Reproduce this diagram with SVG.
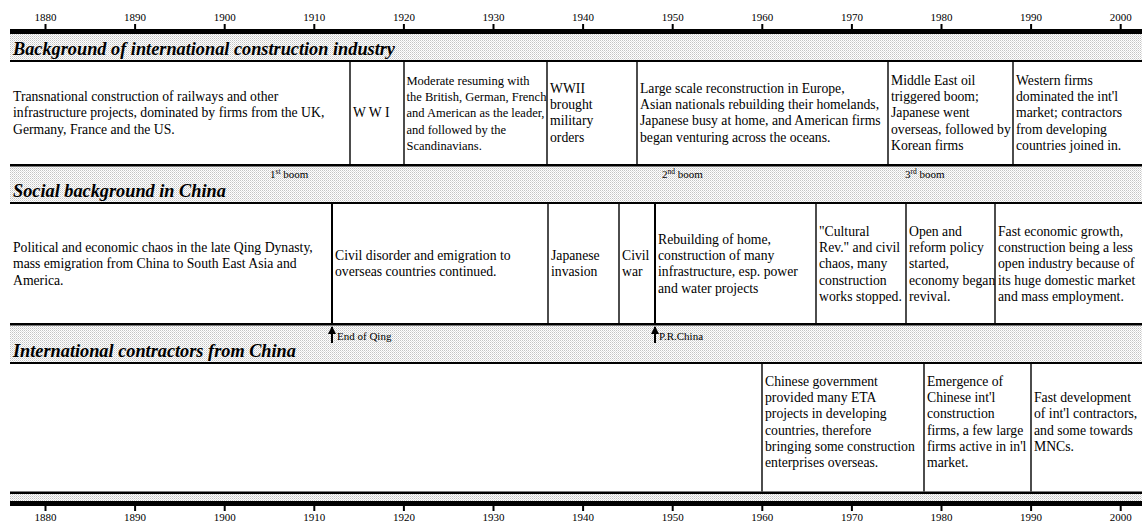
<svg xmlns="http://www.w3.org/2000/svg" width="1142" height="524" viewBox="0 0 1142 524">
  <defs>
    <pattern id="dots" width="2" height="2" patternUnits="userSpaceOnUse">
      <rect width="2" height="2" fill="#ffffff"/>
      <rect width="1" height="1" fill="#c4c4c4"/>
      <rect x="1" y="1" width="1" height="1" fill="#dedede"/>
    </pattern>
    <marker id="head" markerWidth="8" markerHeight="8" refX="7" refY="4" orient="auto" markerUnits="userSpaceOnUse">
      <path d="M0,0 L8,4 L0,8 Z" fill="#000"/>
    </marker>
  </defs>
  <style>
    text { font-family: "Liberation Serif", "Times New Roman", serif; fill: #000; }
    .yr { font-size: 11px; text-anchor: middle; }
    .cell { font-size: 13.7px; }
    .cell-s { font-size: 12.5px; }
    .ttl { font-size: 18.3px; font-weight: bold; font-style: italic; }
    .sm { font-size: 11px; }
    .sup { font-size: 7.5px; }
    .div { stroke: #000; stroke-width: 1.4; }
    .mark { stroke: #000; stroke-width: 2; }
    .band { fill: url(#dots); }
  </style>
  <rect width="1142" height="524" fill="#ffffff"/>

  <!-- dotted bands -->
  <rect class="band" x="10" y="34" width="1132" height="26"/>
  <rect class="band" x="10" y="166.5" width="1132" height="35.5"/>
  <rect class="band" x="10" y="325.5" width="1132" height="36.5"/>
  <rect class="band" x="10" y="494" width="1132" height="7"/>

  <!-- time axis, top -->
  <g id="axis-top">
    <rect x="10" y="29" width="1132" height="5" fill="#000"/>
    <g fill="#000">
      <rect x="44.5" y="24" width="2" height="5"/><rect x="134.1" y="24" width="2" height="5"/>
      <rect x="223.7" y="24" width="2" height="5"/><rect x="313.3" y="24" width="2" height="5"/>
      <rect x="402.9" y="24" width="2" height="5"/><rect x="492.5" y="24" width="2" height="5"/>
      <rect x="582.1" y="24" width="2" height="5"/><rect x="671.7" y="24" width="2" height="5"/>
      <rect x="761.3" y="24" width="2" height="5"/><rect x="850.9" y="24" width="2" height="5"/>
      <rect x="940.5" y="24" width="2" height="5"/><rect x="1030.1" y="24" width="2" height="5"/>
      <rect x="1119.7" y="24" width="2" height="5"/>
    </g>
    <text class="yr" x="45.5" y="20.5">1880</text><text class="yr" x="135.1" y="20.5">1890</text>
    <text class="yr" x="224.7" y="20.5">1900</text><text class="yr" x="314.3" y="20.5">1910</text>
    <text class="yr" x="403.9" y="20.5">1920</text><text class="yr" x="493.5" y="20.5">1930</text>
    <text class="yr" x="583.1" y="20.5">1940</text><text class="yr" x="672.7" y="20.5">1950</text>
    <text class="yr" x="762.3" y="20.5">1960</text><text class="yr" x="851.9" y="20.5">1970</text>
    <text class="yr" x="941.5" y="20.5">1980</text><text class="yr" x="1031.1" y="20.5">1990</text>
    <text class="yr" x="1120.7" y="20.5">2000</text>
  </g>

  <!-- time axis, bottom -->
  <g id="axis-bottom">
    <rect x="10" y="501" width="1132" height="5" fill="#000"/>
    <g fill="#000">
      <rect x="44.5" y="506" width="2" height="5"/><rect x="134.1" y="506" width="2" height="5"/>
      <rect x="223.7" y="506" width="2" height="5"/><rect x="313.3" y="506" width="2" height="5"/>
      <rect x="402.9" y="506" width="2" height="5"/><rect x="492.5" y="506" width="2" height="5"/>
      <rect x="582.1" y="506" width="2" height="5"/><rect x="671.7" y="506" width="2" height="5"/>
      <rect x="761.3" y="506" width="2" height="5"/><rect x="850.9" y="506" width="2" height="5"/>
      <rect x="940.5" y="506" width="2" height="5"/><rect x="1030.1" y="506" width="2" height="5"/>
      <rect x="1119.7" y="506" width="2" height="5"/>
    </g>
    <text class="yr" x="45.5" y="521">1880</text><text class="yr" x="135.1" y="521">1890</text>
    <text class="yr" x="224.7" y="521">1900</text><text class="yr" x="314.3" y="521">1910</text>
    <text class="yr" x="403.9" y="521">1920</text><text class="yr" x="493.5" y="521">1930</text>
    <text class="yr" x="583.1" y="521">1940</text><text class="yr" x="672.7" y="521">1950</text>
    <text class="yr" x="762.3" y="521">1960</text><text class="yr" x="851.9" y="521">1970</text>
    <text class="yr" x="941.5" y="521">1980</text><text class="yr" x="1031.1" y="521">1990</text>
    <text class="yr" x="1120.7" y="521">2000</text>
  </g>

  <!-- row rules -->
  <g id="rules" fill="#000">
    <rect x="10" y="60" width="1132" height="2"/>
    <rect x="10" y="164" width="1132" height="2.5"/>
    <rect x="10" y="202" width="1132" height="2"/>
    <rect x="10" y="323" width="1132" height="2.5"/>
    <rect x="10" y="362" width="1132" height="2"/>
    <rect x="10" y="491.5" width="1132" height="2.5"/>
  </g>

  <!-- section headings and band notes -->
  <g id="headings">
    <text class="ttl" x="13" y="54.5">Background of international construction industry</text>
    <text class="ttl" x="13" y="197">Social background in China</text>
    <text class="ttl" x="13" y="357">International contractors from China</text>
    <text class="sm" x="270" y="178">1<tspan class="sup" dy="-4">st</tspan><tspan dy="4"> boom</tspan></text>
    <text class="sm" x="662" y="178">2<tspan class="sup" dy="-4">nd</tspan><tspan dy="4"> boom</tspan></text>
    <text class="sm" x="905" y="178">3<tspan class="sup" dy="-4">rd</tspan><tspan dy="4"> boom</tspan></text>
  </g>

  <!-- international construction industry -->
  <g id="intl-early">
    <text class="cell" x="13" y="101.1"><tspan x="13">Transnational construction of railways and other</tspan><tspan x="13" dy="16.2">infrastructure projects, dominated by firms from the UK,</tspan><tspan x="13" dy="16.2">Germany, France and the US.</tspan></text>
  </g>
  <g id="intl-wwi">
    <line class="div" x1="350" y1="62" x2="350" y2="164"/>
    <text class="cell" x="353" y="117.3">W W I</text>
  </g>
  <g id="intl-interwar">
    <line class="div" x1="404" y1="62" x2="404" y2="164"/>
    <text class="cell-s" x="406.5" y="84.9"><tspan x="406.5">Moderate resuming with</tspan><tspan x="406.5" dy="16.2">the British, German, French</tspan><tspan x="406.5" dy="16.2">and American as the leader,</tspan><tspan x="406.5" dy="16.2">and followed by the</tspan><tspan x="406.5" dy="16.2">Scandinavians.</tspan></text>
  </g>
  <g id="intl-wwii">
    <line class="div" x1="547" y1="62" x2="547" y2="164"/>
    <text class="cell" x="550" y="93"><tspan x="550">WWII</tspan><tspan x="550" dy="16.2">brought</tspan><tspan x="550" dy="16.2">military</tspan><tspan x="550" dy="16.2">orders</tspan></text>
  </g>
  <g id="intl-postwar">
    <line class="div" x1="637" y1="62" x2="637" y2="164"/>
    <text class="cell" x="640" y="93"><tspan x="640">Large scale reconstruction in Europe,</tspan><tspan x="640" dy="16.2">Asian nationals rebuilding their homelands,</tspan><tspan x="640" dy="16.2">Japanese busy at home, and American firms</tspan><tspan x="640" dy="16.2">began venturing across the oceans.</tspan></text>
  </g>
  <g id="intl-oil">
    <line class="div" x1="888" y1="62" x2="888" y2="164"/>
    <text class="cell" x="891" y="84.9"><tspan x="891">Middle East oil</tspan><tspan x="891" dy="16.2">triggered boom;</tspan><tspan x="891" dy="16.2">Japanese went</tspan><tspan x="891" dy="16.2">overseas, followed by</tspan><tspan x="891" dy="16.2">Korean firms</tspan></text>
  </g>
  <g id="intl-late">
    <line class="div" x1="1013" y1="62" x2="1013" y2="164"/>
    <text class="cell" x="1016" y="84.9"><tspan x="1016">Western firms</tspan><tspan x="1016" dy="16.2">dominated the int'l</tspan><tspan x="1016" dy="16.2">market; contractors</tspan><tspan x="1016" dy="16.2">from developing</tspan><tspan x="1016" dy="16.2">countries joined in.</tspan></text>
  </g>

  <!-- social background in China -->
  <g id="china-qing">
    <text class="cell" x="13" y="252.1"><tspan x="13">Political and economic chaos in the late Qing Dynasty,</tspan><tspan x="13" dy="16.2">mass emigration from China to South East Asia and</tspan><tspan x="13" dy="16.2">America.</tspan></text>
  </g>
  <g id="china-republic">
    <line class="mark" x1="332" y1="204" x2="332" y2="323"/>
    <text class="cell" x="335" y="260.2"><tspan x="335">Civil disorder and emigration to</tspan><tspan x="335" dy="16.2">overseas countries continued.</tspan></text>
  </g>
  <g id="china-invasion">
    <line class="div" x1="548" y1="204" x2="548" y2="323"/>
    <text class="cell" x="551" y="260.2"><tspan x="551">Japanese</tspan><tspan x="551" dy="16.2">invasion</tspan></text>
  </g>
  <g id="china-civilwar">
    <line class="div" x1="619" y1="204" x2="619" y2="323"/>
    <text class="cell" x="622" y="260.2"><tspan x="622">Civil</tspan><tspan x="622" dy="16.2">war</tspan></text>
  </g>
  <g id="china-rebuild">
    <line class="mark" x1="655" y1="204" x2="655" y2="323"/>
    <text class="cell" x="658" y="244"><tspan x="658">Rebuilding of home,</tspan><tspan x="658" dy="16.2">construction of many</tspan><tspan x="658" dy="16.2">infrastructure, esp. power</tspan><tspan x="658" dy="16.2">and water projects</tspan></text>
  </g>
  <g id="china-cultural">
    <line class="div" x1="816" y1="204" x2="816" y2="323"/>
    <text class="cell" x="819" y="235.9"><tspan x="819">"Cultural</tspan><tspan x="819" dy="16.2">Rev." and civil</tspan><tspan x="819" dy="16.2">chaos, many</tspan><tspan x="819" dy="16.2">construction</tspan><tspan x="819" dy="16.2">works stopped.</tspan></text>
  </g>
  <g id="china-reform">
    <line class="div" x1="906" y1="204" x2="906" y2="323"/>
    <text class="cell" x="909" y="235.9"><tspan x="909">Open and</tspan><tspan x="909" dy="16.2">reform policy</tspan><tspan x="909" dy="16.2">started,</tspan><tspan x="909" dy="16.2">economy began</tspan><tspan x="909" dy="16.2">revival.</tspan></text>
  </g>
  <g id="china-growth">
    <line class="div" x1="995" y1="204" x2="995" y2="323"/>
    <text class="cell" x="998" y="235.9"><tspan x="998">Fast economic growth,</tspan><tspan x="998" dy="16.2">construction being a less</tspan><tspan x="998" dy="16.2">open industry because of</tspan><tspan x="998" dy="16.2">its huge domestic market</tspan><tspan x="998" dy="16.2">and mass employment.</tspan></text>
  </g>

  <!-- international contractors from China -->
  <g id="contractors-aid">
    <line class="div" x1="762" y1="364" x2="762" y2="491.5"/>
    <text class="cell" x="765" y="386"><tspan x="765">Chinese government</tspan><tspan x="765" dy="16.2">provided many ETA</tspan><tspan x="765" dy="16.2">projects in developing</tspan><tspan x="765" dy="16.2">countries, therefore</tspan><tspan x="765" dy="16.2">bringing some construction</tspan><tspan x="765" dy="16.2">enterprises overseas.</tspan></text>
  </g>
  <g id="contractors-emerge">
    <line class="div" x1="924" y1="364" x2="924" y2="491.5"/>
    <text class="cell" x="927" y="386"><tspan x="927">Emergence of</tspan><tspan x="927" dy="16.2">Chinese int'l</tspan><tspan x="927" dy="16.2">construction</tspan><tspan x="927" dy="16.2">firms, a few large</tspan><tspan x="927" dy="16.2">firms active in in'l</tspan><tspan x="927" dy="16.2">market.</tspan></text>
  </g>
  <g id="contractors-growth">
    <line class="div" x1="1031" y1="364" x2="1031" y2="491.5"/>
    <text class="cell" x="1034" y="402.2"><tspan x="1034">Fast development</tspan><tspan x="1034" dy="16.2">of int'l contractors,</tspan><tspan x="1034" dy="16.2">and some towards</tspan><tspan x="1034" dy="16.2">MNCs.</tspan></text>
  </g>

  <!-- event pointers -->
  <g id="connectors">
    <line class="mark" x1="332" y1="343" x2="332" y2="327" marker-end="url(#head)"/>
    <text class="sm" x="337" y="339.5">End of Qing</text>
    <line class="mark" x1="655" y1="343" x2="655" y2="327" marker-end="url(#head)"/>
    <text class="sm" x="659" y="339.5">P.R.China</text>
  </g>
</svg>
